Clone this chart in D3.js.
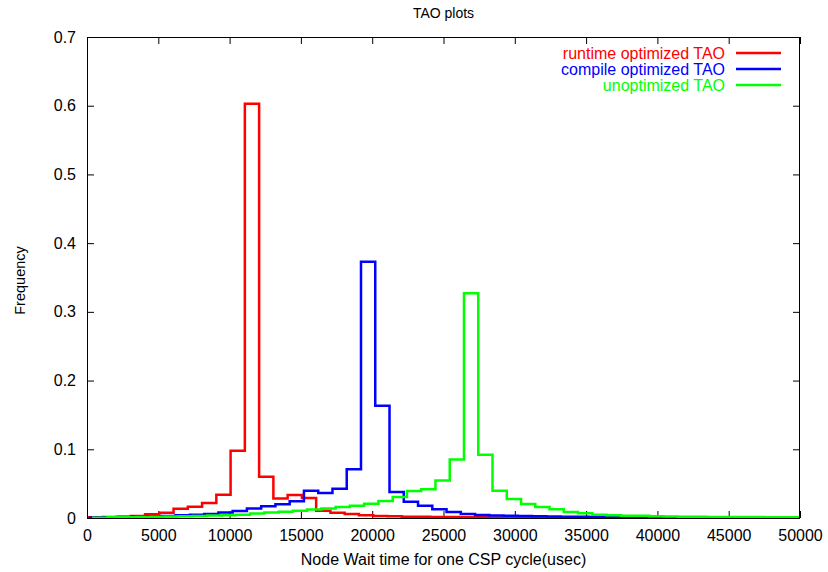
<!DOCTYPE html>
<html>
<head>
<meta charset="utf-8">
<script src="https://cdn.jsdelivr.net/npm/d3@7"></script>
<style>
  html, body { margin: 0; padding: 0; background: #fff; }
  svg { display: block; font-family: "Liberation Sans", Arial, Helvetica, sans-serif; }
</style>
</head>
<body>
<svg id="chart" width="828" height="572"></svg>
<script>
// ---- data ----
const title = "TAO plots";
const xLabel = "Node Wait time for one CSP cycle(usec)";
const yLabel = "Frequency";
const xTicks = [0, 5000, 10000, 15000, 20000, 25000, 30000, 35000, 40000, 45000, 50000];
const yTicks = [0, 0.1, 0.2, 0.3, 0.4, 0.5, 0.6, 0.7];
const seriesNames = ["runtime optimized TAO", "compile optimized TAO", "unoptimized TAO"];
const seriesColors = ["#ff0000", "#0000ff", "#00ff00"];
const binWidth = 1000;
const binStarts = [70, 214, 437];

const runtimeValues = [
  0.001, 0.0015, 0.002, 0.003, 0.0054, 0.0077, 0.0135, 0.0165, 0.022, 0.034,
  0.098, 0.603, 0.06, 0.0285, 0.0335, 0.029, 0.0106, 0.0077, 0.0058, 0.004,
  0.003, 0.0024, 0.002, 0.0017, 0.0015, 0.0013, 0.0011, 0.001, 0.0009, 0.0008,
  0.0007, 0.0006, 0.0005, 0.0005, 0.0004, 0.0004, 0.0003, 0.0003, 0.0003, 0.0002,
  0.0002, 0.0002, 0.0002, 0.0001, 0.0001, 0.0001, 0.0001, 0.0001, 0.0001, 0.0001
];
const compileValues = [
  0.0008, 0.001, 0.0015, 0.002, 0.0025, 0.003, 0.004, 0.0048, 0.006, 0.008,
  0.0102, 0.014, 0.017, 0.02, 0.0245, 0.0395, 0.0365, 0.0425, 0.071, 0.373,
  0.1635, 0.038, 0.0237, 0.018, 0.0127, 0.0087, 0.0058, 0.0045, 0.0038, 0.0032,
  0.0028, 0.0025, 0.0022, 0.002, 0.0018, 0.0016, 0.0014, 0.0013, 0.0012, 0.001,
  0.001, 0.0009, 0.0008, 0.0008, 0.0007, 0.0006, 0.0006, 0.0005, 0.0005, 0.0005
];
const unoptimizedValues = [
  0.0005, 0.001, 0.0012, 0.0015, 0.0018, 0.0022, 0.0027, 0.003, 0.0035, 0.004,
  0.0048, 0.0065, 0.008, 0.0092, 0.0106, 0.0125, 0.014, 0.016, 0.018, 0.0208,
  0.0247, 0.0305, 0.0393, 0.042, 0.0545, 0.085, 0.327, 0.092, 0.0397, 0.0275,
  0.0204, 0.016, 0.0127, 0.0087, 0.0068, 0.0048, 0.004, 0.0034, 0.0032, 0.0025,
  0.0022, 0.002, 0.0018, 0.0016, 0.0015, 0.0014, 0.0013, 0.0012, 0.0012, 0.001
];
const seriesValues = [runtimeValues, compileValues, unoptimizedValues];

// ---- layout ----
const W = 828, H = 572;
const margin = { top: 37, right: 28, bottom: 54, left: 87 };
const iw = W - margin.left - margin.right;
const ih = H - margin.top - margin.bottom;
const fontStack = "'Liberation Sans', Arial, Helvetica, sans-serif";

const svg = d3.select("#chart");
const x = d3.scaleLinear().domain([0, 50000]).range([margin.left, margin.left + iw]);
const y = d3.scaleLinear().domain([0, 0.7]).range([margin.top + ih, margin.top]);

svg.append("defs").append("clipPath").attr("id", "clip")
  .append("rect").attr("x", margin.left).attr("y", margin.top - 2)
  .attr("width", iw).attr("height", ih + 2);

// Axes with inward ticks (gnuplot style), mirrored
const tickLen = 7;
const fmtY = d => (d === 0 ? "0" : d3.format(".1f")(d));

const gx = svg.append("g").attr("transform", `translate(0,${margin.top + ih})`)
  .call(d3.axisBottom(x).tickValues(xTicks).tickSize(-tickLen).tickPadding(tickLen + 5).tickFormat(d3.format("d")));
const gxTop = svg.append("g").attr("transform", `translate(0,${margin.top})`)
  .call(d3.axisTop(x).tickValues(xTicks).tickSize(-tickLen).tickFormat(""));
const gy = svg.append("g").attr("transform", `translate(${margin.left},0)`)
  .call(d3.axisLeft(y).tickValues(yTicks).tickSize(-tickLen).tickPadding(tickLen + 4).tickFormat(fmtY));
const gyRight = svg.append("g").attr("transform", `translate(${margin.left + iw},0)`)
  .call(d3.axisRight(y).tickValues(yTicks).tickSize(-tickLen).tickFormat(""));

[gx, gxTop, gy, gyRight].forEach(g => {
  g.select(".domain").remove();
  g.selectAll(".tick line").attr("stroke", "#000").attr("stroke-width", 1);
  g.selectAll("text").attr("fill", "#000").style("font-size", "16px")
    .style("font-family", fontStack);
});

// Step lines
const line = d3.line().x(d => x(d[0])).y(d => y(d[1])).curve(d3.curveStepAfter);
const plot = svg.append("g").attr("clip-path", "url(#clip)");
seriesValues.forEach((vals, i) => {
  const s = binStarts[i];
  const pts = [[s, 0]];
  vals.forEach((v, k) => pts.push([s + k * binWidth, v]));
  pts.push([s + vals.length * binWidth, 0]);
  plot.append("path").datum(pts)
    .attr("fill", "none").attr("stroke", seriesColors[i])
    .attr("stroke-width", 2.5).attr("stroke-linejoin", "miter")
    .attr("d", line);
});

// Border
svg.append("rect").attr("x", margin.left + 0.5).attr("y", margin.top + 0.5)
  .attr("width", iw - 1).attr("height", ih)
  .attr("fill", "none").attr("stroke", "#000").attr("stroke-width", 1);

// Legend
const legend = svg.append("g");
seriesNames.forEach((name, i) => {
  const ly = 53 + i * 16;
  legend.append("text").attr("x", 725).attr("y", ly).attr("dy", "0.35em")
    .attr("text-anchor", "end").attr("fill", seriesColors[i])
    .style("font-size", "16px").style("font-family", fontStack).text(name);
  legend.append("line").attr("x1", 736).attr("x2", 781).attr("y1", ly).attr("y2", ly)
    .attr("stroke", seriesColors[i]).attr("stroke-width", 2.5);
});

// Titles
svg.append("text").attr("x", margin.left + iw / 2).attr("y", 18)
  .attr("text-anchor", "middle").style("font-size", "14px").text(title);
svg.append("text").attr("x", margin.left + iw / 2).attr("y", 565)
  .attr("text-anchor", "middle").style("font-size", "16px").text(xLabel);
svg.append("text").attr("transform", `translate(25,${margin.top + ih / 2 + 3}) rotate(-90)`)
  .attr("text-anchor", "middle").style("font-size", "14.5px").text(yLabel);
</script>
</body>
</html>
